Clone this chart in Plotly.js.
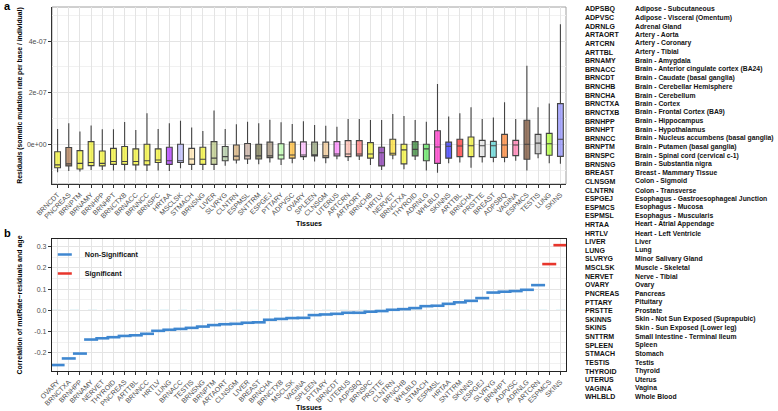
<!DOCTYPE html>
<html>
<head>
<meta charset="utf-8">
<script src="https://cdn.plot.ly/plotly-3.0.1.min.js"></script>
<style>html,body{margin:0;padding:0;background:#fff;}#plot{width:778px;height:411px;}</style>
</head>
<body>
<div id="plot"></div>
<script>
// ---------- Panel a: residual distributions (boxplot stats per tissue) ----------
const tissuesA = ["BRNCDT","PNCREAS","BRNPTM","BRNAMY","BRNHPP","BRNHPT","BRNCTXB","BRNACC","BRNNCC","BRNSPC","HRTAA","MSCLSK","STMACH","BRNSNG","LIVER","SLVRYG","CLNTRN","ESPMSL","SNTTRM","ESPGEJ","PTTARY","ADPVSC","OVARY","SPLEEN","CLNSGM","UTERUS","ARTCRN","ARTAORT","BRNCHB","HRTLV","NERVET","BRNCTXA","THYROID","ADRNLG","WHLBLD","SKINNS","ARTTBL","BRNCHA","PRSTTE","BREAST","ADPSBQ","VAGINA","ESPMCS","TESTIS","LUNG","SKINS"];
const lowerA = [-10.8e-8,-10.3e-8,-10.5e-8,-9.9e-8,-9.9e-8,-10.1e-8,-10.1e-8,-10.1e-8,-10.3e-8,-10.1e-8,-10.3e-8,-9.2e-8,-9.9e-8,-9.9e-8,-9.9e-8,-8.2e-8,-7.4e-8,-7.6e-8,-7.7e-8,-7.0e-8,-7.9e-8,-7.3e-8,-6.0e-8,-6.6e-8,-7.3e-8,-5.7e-8,-6.4e-8,-6.0e-8,-7.9e-8,-9.9e-8,-5.7e-8,-9.6e-8,-6.0e-8,-10.1e-8,-10.9e-8,-7.3e-8,-7.0e-8,-9.0e-8,-7.0e-8,-6.9e-8,-6.9e-8,-6.3e-8,-10.1e-8,-5.3e-8,-7.3e-8,-7.5e-8];
const q1A = [-9.0e-8,-8.3e-8,-9.5e-8,-8.2e-8,-8.3e-8,-7.7e-8,-7.7e-8,-7.9e-8,-7.9e-8,-7.0e-8,-7.7e-8,-7.0e-8,-7.7e-8,-7.7e-8,-7.7e-8,-6.3e-8,-6.0e-8,-5.6e-8,-5.6e-8,-5.1e-8,-5.6e-8,-5.3e-8,-4.7e-8,-4.4e-8,-5.1e-8,-4.4e-8,-4.7e-8,-4.4e-8,-5.3e-8,-8.3e-8,-4.1e-8,-7.5e-8,-4.4e-8,-6.3e-8,-7.3e-8,-5.3e-8,-4.7e-8,-4.7e-8,-4.7e-8,-5.0e-8,-5.0e-8,-4.3e-8,-5.7e-8,-3.6e-8,-4.2e-8,-4.6e-8];
const medA = [-7.9e-8,-7.5e-8,-7.3e-8,-7.0e-8,-7.3e-8,-6.6e-8,-6.6e-8,-6.6e-8,-6.3e-8,-6.0e-8,-6.3e-8,-6.3e-8,-5.6e-8,-5.7e-8,-5.3e-8,-4.7e-8,-4.5e-8,-4.4e-8,-4.4e-8,-4.4e-8,-4.1e-8,-4.1e-8,-4.1e-8,-4.1e-8,-4.4e-8,-3.7e-8,-3.7e-8,-3.7e-8,-3.7e-8,-3.2e-8,-3.4e-8,-2.1e-8,-1.9e-8,-1.7e-8,-1.0e-8,-0.7e-8,-0.6e-8,-0.5e-8,-0.5e-8,-0.5e-8,-0.2e-8,-0.2e-8,0.1e-8,0.5e-8,0.3e-8,2.0e-8];
const q3A = [-2.8e-8,-1.2e-8,-2.4e-8,1.1e-8,-2.5e-8,-1.5e-8,-0.8e-8,-1.7e-8,0.1e-8,-1.7e-8,-1.1e-8,0.1e-8,-1.5e-8,-1.1e-8,1.1e-8,-0.8e-8,-0.2e-8,0.4e-8,0.1e-8,0.9e-8,0.3e-8,0.9e-8,1.0e-8,0.9e-8,0.9e-8,1.1e-8,1.5e-8,1.5e-8,0.7e-8,-1.1e-8,2.0e-8,0.1e-8,1.1e-8,0.1e-8,5.3e-8,0.9e-8,2.0e-8,2.9e-8,1.6e-8,1.2e-8,3.9e-8,1.6e-8,9.4e-8,3.9e-8,4.3e-8,15.8e-8];
const upperA = [6.0e-8,8.2e-8,5.0e-8,7.3e-8,5.9e-8,5.9e-8,8.7e-8,5.6e-8,12.1e-8,6.0e-8,8.2e-8,9.2e-8,6.6e-8,5.2e-8,13.1e-8,6.0e-8,7.8e-8,8.8e-8,8.2e-8,9.6e-8,8.6e-8,7.9e-8,9.0e-8,7.5e-8,7.2e-8,6.9e-8,9.9e-8,9.9e-8,9.5e-8,9.5e-8,11.8e-8,11.0e-8,9.5e-8,8.8e-8,23.4e-8,10.8e-8,12.1e-8,14.4e-8,9.9e-8,10.4e-8,16.3e-8,9.9e-8,30.5e-8,14.4e-8,15.9e-8,46.5e-8];
const yTickValsA = [0, 2e-7, 4e-7];
const yTickTextA = ["0e+00", "2e-07", "4e-07"];
const yMinorA = [-1e-7, 1e-7, 3e-7, 5e-7];

// ---------- Panel b: correlation of residuals with age ----------
const tissuesB = ["OVARY","BRNCTXA","BRNHPP","BRNAMY","NERVET","THYROID","PNCREAS","ARTTBL","BRNNCC","HRTLV","LUNG","BRNACC","TESTIS","BRNSNG","BRNPTM","ARTAORT","CLNSGM","LIVER","BREAST","BRNCHA","BRNCTXB","MSCLSK","VAGINA","SPLEEN","PTTARY","BRNCDT","UTERUS","ADPSBQ","BRNSPC","PRSTTE","CLNTRN","BRNCHB","WHLBLD","STMACH","ESPMSL","HRTAA","SNTTRM","SKINNS","ESPGEJ","SLVRYG","BRNHPT","ADPVSC","ADRNLG","ARTCRN","ESPMCS","SKINS"];
const corrB = [-0.257,-0.226,-0.203,-0.137,-0.131,-0.126,-0.120,-0.117,-0.110,-0.096,-0.091,-0.087,-0.082,-0.076,-0.069,-0.065,-0.063,-0.058,-0.056,-0.044,-0.040,-0.036,-0.035,-0.022,-0.019,-0.016,-0.011,-0.011,-0.006,-0.003,0.003,0.006,0.011,0.020,0.022,0.031,0.038,0.045,0.058,0.084,0.088,0.091,0.097,0.119,0.218,0.307];
const signifB = ["ESPMCS","SKINS"];
const yTickValsB = [-0.2,-0.1,0,0.1,0.2,0.3];
const yTickTextB = ["-0.2","-0.1","0.0","0.1","0.2","0.3"];
const yMinorB = [-0.25,-0.15,-0.05,0.05,0.15,0.25];
const refLineB = 0;

// ---------- Tissue key ----------
const keyCodes = ["ADPSBQ","ADPVSC","ADRNLG","ARTAORT","ARTCRN","ARTTBL","BRNAMY","BRNACC","BRNCDT","BRNCHB","BRNCHA","BRNCTXA","BRNCTXB","BRNHPP","BRNHPT","BRNNCC","BRNPTM","BRNSPC","BRNSNG","BREAST","CLNSGM","CLNTRN","ESPGEJ","ESPMCS","ESPMSL","HRTAA","HRTLV","LIVER","LUNG","SLVRYG","MSCLSK","NERVET","OVARY","PNCREAS","PTTARY","PRSTTE","SKINNS","SKINS","SNTTRM","SPLEEN","STMACH","TESTIS","THYROID","UTERUS","VAGINA","WHLBLD"];
const keyNames = ["Adipose - Subcutaneous","Adipose - Visceral (Omentum)","Adrenal Gland","Artery - Aorta","Artery - Coronary","Artery - Tibial","Brain - Amygdala","Brain - Anterior cingulate cortex (BA24)","Brain - Caudate (basal ganglia)","Brain - Cerebellar Hemisphere","Brain - Cerebellum","Brain - Cortex","Brain - Frontal Cortex (BA9)","Brain - Hippocampus","Brain - Hypothalamus","Brain - Nucleus accumbens (basal ganglia)","Brain - Putamen (basal ganglia)","Brain - Spinal cord (cervical c-1)","Brain - Substantia nigra","Breast - Mammary Tissue","Colon - Sigmoid","Colon - Transverse","Esophagus - Gastroesophageal Junction","Esophagus - Mucosa","Esophagus - Muscularis","Heart - Atrial Appendage","Heart - Left Ventricle","Liver","Lung","Minor Salivary Gland","Muscle - Skeletal","Nerve - Tibial","Ovary","Pancreas","Pituitary","Prostate","Skin - Not Sun Exposed (Suprapubic)","Skin - Sun Exposed (Lower leg)","Small Intestine - Terminal Ileum","Spleen","Stomach","Testis","Thyroid","Uterus","Vagina","Whole Blood"];

// GTEx tissue colours
const tissueColors = {ADPSBQ:"#FF6600",ADPVSC:"#FFAA00",ADRNLG:"#33DD33",ARTAORT:"#FF5555",ARTCRN:"#FFAA99",ARTTBL:"#FF0000",
 BRNAMY:"#EEEE00",BRNACC:"#EEEE00",BRNCDT:"#EEEE00",BRNCHB:"#EEEE00",BRNCHA:"#EEEE00",BRNCTXA:"#EEEE00",BRNCTXB:"#EEEE00",BRNHPP:"#EEEE00",BRNHPT:"#EEEE00",BRNNCC:"#EEEE00",BRNPTM:"#EEEE00",BRNSPC:"#EEEE00",BRNSNG:"#EEEE00",
 BREAST:"#33CCCC",CLNSGM:"#EEBB77",CLNTRN:"#CC9955",ESPGEJ:"#8B7355",ESPMCS:"#552200",ESPMSL:"#BB9988",HRTAA:"#9900FF",HRTLV:"#660099",
 LIVER:"#AABB66",LUNG:"#99FF00",SLVRYG:"#99BB88",MSCLSK:"#AAAAFF",NERVET:"#FFD700",OVARY:"#FFAAFF",PNCREAS:"#995522",PTTARY:"#AAFF99",PRSTTE:"#DDDDDD",
 SKINNS:"#0000FF",SKINS:"#7777FF",SNTTRM:"#555522",SPLEEN:"#778855",STMACH:"#FFDD99",TESTIS:"#AAAAAA",THYROID:"#006600",UTERUS:"#FF66FF",VAGINA:"#FF5599",WHLBLD:"#FF00BB"};

function rgba(hex, a){
  const n = parseInt(hex.slice(1),16);
  return `rgba(${(n>>16)&255},${(n>>8)&255},${n&255},${a})`;
}

const FONT = "Liberation Sans, Arial, Helvetica, sans-serif";
const traces = [];

tissuesA.forEach((t,i)=>{
  traces.push({
    type:'box', x:[t], q1:[q1A[i]], median:[medA[i]], q3:[q3A[i]],
    lowerfence:[lowerA[i]], upperfence:[upperA[i]],
    boxpoints:false, whiskerwidth:0,
    fillcolor: rgba(tissueColors[t], 0.6),
    line:{color:'#444444', width:1.1},
    xaxis:'x', yaxis:'y', showlegend:false, hoverinfo:'skip', name:t
  });
});

const groups = [
  {name:'Non-Significant', color:'#3f87d0', test: t=>!signifB.includes(t)},
  {name:'Significant', color:'#e8362c', test: t=>signifB.includes(t)}
];
groups.forEach(g=>{
  const xs=[], ys=[];
  tissuesB.forEach((t,i)=>{ if(g.test(t)){ xs.push(t); ys.push(corrB[i]); } });
  traces.push({
    type:'scatter', mode:'markers', x:xs, y:ys, xaxis:'x2', yaxis:'y2', name:g.name,
    marker:{symbol:'line-ew', size:10, color:g.color, line:{color:g.color, width:2.6}},
    hoverinfo:'skip'
  });
});

// geometry helpers (pixels -> paper)
const L=52, R=566, T=7, B=371;
const px = x => (x-L)/(R-L);
const py = y => (B-y)/(B-T);

const annotations = [
  {text:'<b>a</b>', x:px(2), y:py(6), xref:'paper', yref:'paper', xanchor:'left', yanchor:'middle', showarrow:false, font:{family:FONT,size:11,color:'#000'}},
  {text:'<b>b</b>', x:px(2), y:py(233), xref:'paper', yref:'paper', xanchor:'left', yanchor:'middle', showarrow:false, font:{family:FONT,size:11,color:'#000'}}
];
keyCodes.forEach((c,i)=>{
  const yy = 9 + i*8.62;
  annotations.push({text:c, x:px(583), y:py(yy), xref:'paper', yref:'paper', xanchor:'left', yanchor:'middle', showarrow:false, font:{family:FONT,size:7.0,color:'#111',weight:'bold'}});
  annotations.push({text:keyNames[i], x:px(633), y:py(yy), xref:'paper', yref:'paper', xanchor:'left', yanchor:'middle', showarrow:false, font:{family:FONT,size:6.8,color:'#111',weight:'bold'}});
});

const tickFont = {family:FONT, size:7, color:'#4d4d4d'};
const titleFont = {family:FONT, size:7, color:'#000', weight:'bold'};
const gridC = '#e4e4e4', minorC = '#f1f1f1';

const layout = {
  width:778, height:411,
  margin:{l:L, r:778-R, t:T, b:411-B},
  paper_bgcolor:'#fff', plot_bgcolor:'#fff',
  font:{family:FONT},
  boxmode:'overlay', boxgap:0.26,
  showlegend:true,
  legend:{x:-0.014, y:py(240), xanchor:'left', yanchor:'top', bgcolor:'rgba(0,0,0,0)', font:{family:FONT,size:7.2,color:'#111',weight:'bold'}, tracegroupgap:0, itemwidth:30},
  xaxis:{domain:[0,1], anchor:'y', type:'category', categoryorder:'array', categoryarray:tissuesA, range:[-0.5,45.5],
    tickangle:-45, tickfont:tickFont, ticks:'outside', ticklen:3, tickcolor:'#333', showline:true, linecolor:'#333', linewidth:1,
    showgrid:true, gridcolor:gridC, gridwidth:1, zeroline:false,
    title:{text:'Tissues', font:titleFont, standoff:2}},
  yaxis:{domain:[py(184),1], anchor:'x', range:[-1.53e-7,5.32e-7], tickmode:'array', tickvals:yTickValsA, ticktext:yTickTextA,
    tickfont:tickFont, ticks:'outside', ticklen:3, tickcolor:'#333', showline:true, linecolor:'#333', linewidth:1,
    showgrid:true, gridcolor:gridC, zeroline:false,
    minor:{tickmode:'array', tickvals:yMinorA, showgrid:true, gridcolor:minorC, ticks:''},
    title:{text:'Residuals (somatic mutation rate per base / individual)', font:{family:FONT, size:6.8, color:'#000', weight:'bold'}, standoff:3}},
  xaxis2:{domain:[0,1], anchor:'y2', type:'category', categoryorder:'array', categoryarray:tissuesB, range:[-0.5,45.5],
    tickangle:-45, tickfont:tickFont, ticks:'outside', ticklen:3, tickcolor:'#333', showline:true, mirror:true, linecolor:'#222', linewidth:1.2,
    showgrid:true, gridcolor:gridC, zeroline:false,
    title:{text:'Tissues', font:titleFont, standoff:4}},
  yaxis2:{domain:[0,py(239)], anchor:'x2', range:[-0.285,0.336], tickmode:'array', tickvals:yTickValsB, ticktext:yTickTextB,
    tickfont:tickFont, ticks:'outside', ticklen:3, tickcolor:'#333', showline:true, mirror:true, linecolor:'#222', linewidth:1.2,
    showgrid:true, gridcolor:gridC, zeroline:false,
    minor:{tickmode:'array', tickvals:yMinorB, showgrid:true, gridcolor:minorC, ticks:''},
    title:{text:'Correlation of mutRate\u2212residuals and age', font:titleFont, standoff:10}},
  shapes:[
    {type:'rect', xref:'x domain', yref:'y domain', x0:0, x1:1, y0:0, y1:1, line:{color:'#a0a0a0', width:1}, layer:'below'},
    {type:'line', xref:'x2 domain', yref:'y2', x0:0, x1:1, y0:refLineB, y1:refLineB, line:{color:'#a6dfe9', width:1.4, dash:'dash'}, layer:'below'}
  ],
  annotations: annotations
};

Plotly.newPlot('plot', traces, layout, {displayModeBar:false, staticPlot:true});
</script>
</body>
</html>
